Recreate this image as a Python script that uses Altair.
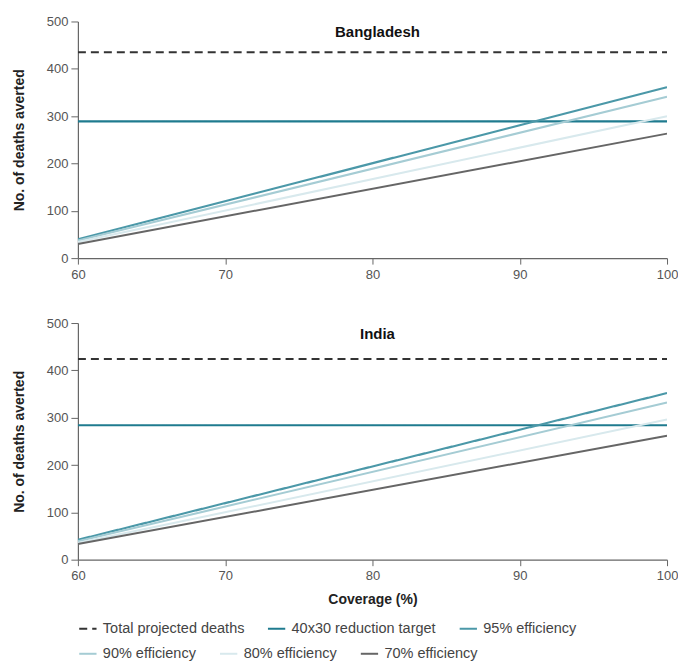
import altair as alt
import pandas as pd

coverage_start = 60
coverage_end = 100
series = ["Total projected deaths", "40x30 reduction target", "95% efficiency",
          "90% efficiency", "80% efficiency", "70% efficiency"]
colors = ["#333333", "#1f7b8f", "#4b98a8", "#a5ccd4", "#d8e9ed", "#666666"]
dashes = [[8, 5], [1, 0], [1, 0]]
widths = [2.2, 2.0, 1.8, 1.6, 1.6, 1.6]

row1 = series[:3]
row2 = series[3:]

bangladesh_start = [435, 289, 40, 37, 34, 30]
bangladesh_end = [435, 289, 361, 341, 300, 263]
india_start = [424, 284, 42, 39, 35, 33]
india_end = [424, 284, 352, 332, 296, 262]

rows = []
for country, st, en in [("Bangladesh", bangladesh_start, bangladesh_end),
                        ("India", india_start, india_end)]:
    for s, a, b in zip(series, st, en):
        rows.append({"country": country, "series": s, "coverage": coverage_start, "value": a})
        rows.append({"country": country, "series": s, "coverage": coverage_end, "value": b})
df = pd.DataFrame(rows)

FONT = "Liberation Sans Narrow, Liberation Sans, Arial, sans-serif"
W = 590
H = 237

legend1 = alt.Legend(title=None, orient="none", legendX=0, legendY=598,
                     direction="horizontal")
legend2 = alt.Legend(title=None, orient="none", legendX=0, legendY=623,
                     direction="horizontal")


def panel(country, show_x_title):
    d = df[df.country == country]
    x = alt.X("coverage:Q",
              scale=alt.Scale(domain=[60, 100], nice=False),
              axis=alt.Axis(values=[60, 70, 80, 90, 100], labelFlush=False,
                            tickSize=6, labelPadding=4, titlePadding=10,
                            title="Coverage (%)" if show_x_title else None))
    y = alt.Y("value:Q",
              scale=alt.Scale(domain=[0, 500], nice=False),
              axis=alt.Axis(values=[0, 100, 200, 300, 400, 500],
                            tickSize=7, labelPadding=3, titlePadding=20,
                            title="No. of deaths averted"))
    sw = alt.StrokeWidth("series:N",
                         scale=alt.Scale(domain=series, range=widths),
                         legend=None)
    color = alt.Color("series:N", sort=row1,
                      scale=alt.Scale(domain=row1, range=colors[:3]),
                      legend=legend1)
    dash = alt.StrokeDash("series:N", sort=row1,
                          scale=alt.Scale(domain=row1, range=dashes),
                          legend=legend1)
    target = alt.Chart(d[d.series == series[1]]).mark_line(clip=True).encode(
        x=x, y=y, color=color, strokeDash=dash, strokeWidth=sw)
    first = alt.Chart(d[d.series.isin([series[0], series[2]])]).mark_line(clip=True).encode(
        x=x, y=y, color=color, strokeDash=dash, strokeWidth=sw)
    second = alt.Chart(d[d.series.isin(row2)]).mark_line(clip=True).encode(
        x=x, y=y,
        stroke=alt.Stroke("series:N", sort=row2,
                          scale=alt.Scale(domain=row2, range=colors[3:]),
                          legend=legend2),
        strokeWidth=sw)
    ttl = alt.Chart(pd.DataFrame({"t": [country]})).mark_text(
        fontWeight="bold", fontSize=15, font=FONT, color="#111"
    ).encode(x=alt.value(W / 2 + 5), y=alt.value(11), text="t:N")
    return alt.layer(target, first, second, ttl).properties(width=W, height=H)


chart = alt.vconcat(
    panel("Bangladesh", False),
    panel("India", True),
    spacing=36,
).properties(
    padding={"left": 4, "right": 0, "top": 7, "bottom": 5}
).configure_view(stroke=None).configure_axis(
    grid=False,
    domainColor="#666666",
    tickColor="#666666",
    labelColor="#555555",
    labelFont=FONT,
    labelFontSize=13,
    titleFont=FONT,
    titleFontSize=14,
    titleFontWeight="bold",
    titleColor="#222222",
    domainWidth=1.2,
).configure_legend(
    symbolType="stroke",
    symbolSize=300,
    symbolStrokeWidth=2,
    labelFont=FONT,
    labelFontSize=14.5,
    labelColor="#444444",
    labelOffset=5,
    columnPadding=19,
)

chart.save("out.html", embed_options={"renderer": "svg", "actions": False})
